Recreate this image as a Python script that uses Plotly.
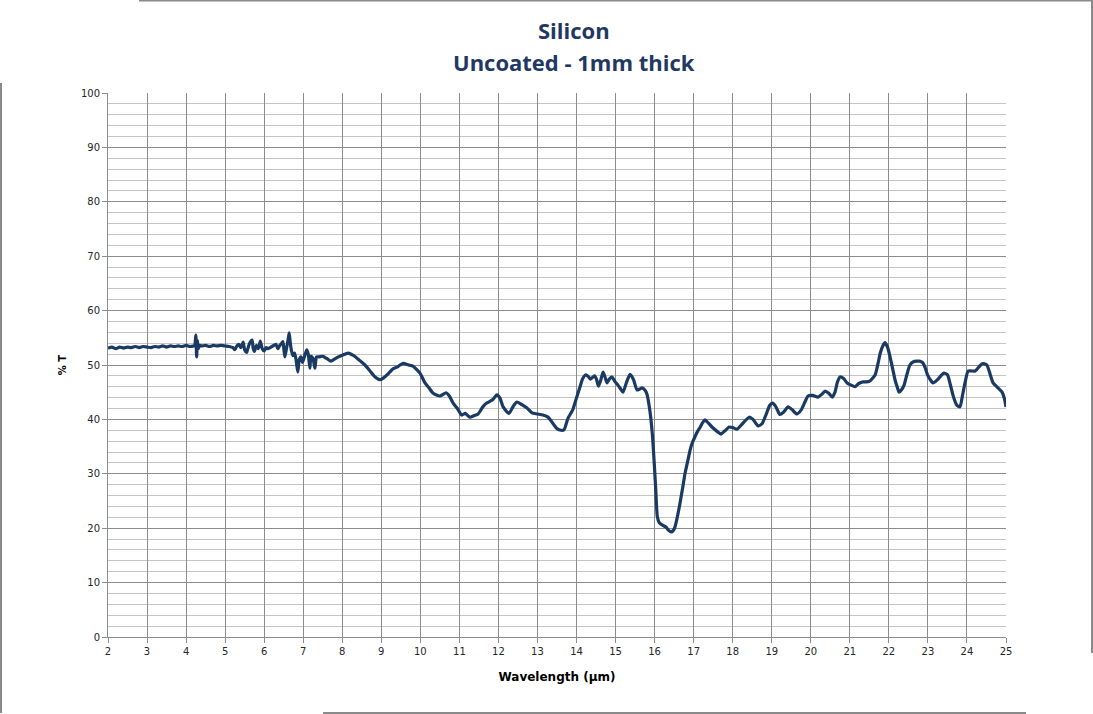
import plotly.graph_objects as go

# Wavelength (µm)
wl = [2.0, 2.1, 2.2, 2.3, 2.4, 2.5, 2.6, 2.7, 2.8, 2.9, 3.0, 3.1, 3.2, 3.3, 3.4, 3.5, 3.6, 3.7, 3.8, 3.9,
      4.0, 4.1, 4.2, 4.22, 4.25, 4.27, 4.29, 4.31, 4.35, 4.4, 4.5, 4.6, 4.7, 4.8, 4.9, 5.0, 5.1, 5.2, 5.25,
      5.3, 5.35, 5.4, 5.46, 5.5, 5.55, 5.6, 5.65, 5.69, 5.72, 5.75, 5.8, 5.85, 5.9, 5.95, 6.0, 6.05, 6.1,
      6.2, 6.3, 6.35, 6.4, 6.45, 6.48, 6.51, 6.53, 6.57, 6.61, 6.64, 6.67, 6.7, 6.74, 6.78, 6.82, 6.86,
      6.9, 6.94, 6.98, 7.03, 7.09, 7.13, 7.17, 7.2, 7.25, 7.3, 7.34, 7.4, 7.5, 7.6, 7.71, 7.8, 7.9, 8.0,
      8.15, 8.3, 8.45, 8.58, 8.7, 8.84, 8.97, 9.05, 9.15, 9.3, 9.4, 9.48, 9.56, 9.7, 9.81, 9.9, 9.99,
      10.12, 10.22, 10.33, 10.5, 10.66, 10.75, 10.84, 10.95, 11.06, 11.15, 11.27, 11.38, 11.48, 11.6,
      11.7, 11.85, 11.96, 12.04, 12.12, 12.27, 12.37, 12.47, 12.6, 12.73, 12.86, 13.0, 13.14, 13.25,
      13.32, 13.42, 13.5, 13.6, 13.68, 13.78, 13.9, 13.98, 14.09, 14.16, 14.24, 14.3, 14.36, 14.46,
      14.51, 14.56, 14.62, 14.68, 14.73, 14.78, 14.84, 14.91, 14.98, 15.06, 15.13, 15.19, 15.28, 15.37,
      15.46, 15.55, 15.62, 15.68, 15.76, 15.81, 15.86, 15.9, 15.95, 15.99, 16.03, 16.07, 16.12, 16.19,
      16.29, 16.36, 16.42, 16.48, 16.52, 16.58, 16.65, 16.72, 16.78, 16.85, 16.91, 16.97, 17.04, 17.1,
      17.17, 17.23, 17.29, 17.38, 17.47, 17.6, 17.7, 17.8, 17.91, 18.0, 18.11, 18.25, 18.42, 18.52,
      18.65, 18.75, 18.85, 18.95, 19.02, 19.1, 19.21, 19.3, 19.42, 19.52, 19.64, 19.75, 19.85, 19.93,
      20.05, 20.19, 20.28, 20.37, 20.46, 20.55, 20.62, 20.68, 20.75, 20.84, 20.93, 21.03, 21.13, 21.23,
      21.34, 21.43, 21.52, 21.6, 21.65, 21.72, 21.78, 21.85, 21.9, 21.97, 22.03, 22.1, 22.16, 22.22,
      22.26, 22.32, 22.39, 22.46, 22.54, 22.63, 22.72, 22.8, 22.87, 22.93, 22.99, 23.06, 23.13, 23.2,
      23.26, 23.34, 23.41, 23.5, 23.57, 23.64, 23.7, 23.74, 23.82, 23.88, 23.95, 24.03, 24.12, 24.21,
      24.3, 24.38, 24.45, 24.51, 24.59, 24.67, 24.78, 24.9, 24.96, 25.0]

# Transmission (%)
tr = [53.1, 53.3, 53.0, 53.3, 53.1, 53.3, 53.2, 53.4, 53.2, 53.4, 53.3, 53.2, 53.4, 53.3, 53.5, 53.3,
      53.5, 53.4, 53.5, 53.4, 53.6, 53.4, 53.5, 53.5, 55.5, 51.5, 54.5, 53.0, 53.6, 53.5, 53.6, 53.4,
      53.6, 53.5, 53.6, 53.5, 53.4, 53.2, 52.8, 53.5, 53.8, 53.2, 54.2, 52.8, 52.3, 53.5, 54.3, 54.6,
      53.0, 52.5, 53.6, 53.0, 54.4, 53.0, 52.6, 53.2, 53.0, 53.4, 53.8, 53.0, 53.6, 54.0, 54.3, 52.5,
      51.5, 53.0, 54.5, 55.9, 54.0, 52.6, 51.7, 52.2, 50.8, 48.7, 51.0, 51.5, 50.5, 51.5, 52.8, 52.0,
      49.4, 51.6, 51.2, 49.4, 51.5, 51.5, 51.6, 51.2, 50.7, 51.1, 51.5, 51.8, 52.2, 51.7, 50.8, 50.0,
      49.0, 47.8, 47.3, 47.6, 48.2, 49.3, 49.6, 50.0, 50.3, 50.0, 49.8, 49.2, 48.5, 46.7, 45.8, 44.8,
      44.3, 44.9, 44.2, 43.0, 42.0, 40.8, 41.1, 40.4, 40.7, 41.0, 42.3, 43.0, 43.6, 44.5, 43.9, 42.3,
      41.1, 42.3, 43.2, 42.7, 42.1, 41.2, 41.0, 40.8, 40.5, 40.0, 39.0, 38.3, 38.0, 38.1, 40.2, 41.7,
      43.5, 46.0, 47.5, 48.2, 47.9, 47.4, 48.0, 47.4, 46.1, 47.2, 48.7, 47.8, 46.7, 47.4, 47.8, 47.0,
      46.3, 45.6, 45.0, 46.8, 48.3, 47.3, 45.4, 45.6, 45.8, 45.3, 44.5, 42.5, 40.4, 36.5, 32.0, 27.0,
      22.1, 21.0, 20.6, 20.2, 19.6, 19.3, 19.6, 20.2, 22.0, 24.6, 27.5, 30.1, 32.4, 34.4, 35.8, 36.9,
      37.8, 38.6, 39.4, 39.9, 39.3, 38.6, 37.8, 37.3, 37.9, 38.6, 38.5, 38.2, 39.2, 40.4, 40.0, 38.8,
      39.2, 40.8, 42.6, 43.0, 42.4, 40.9, 41.3, 42.3, 41.8, 41.0, 41.7, 43.2, 44.3, 44.4, 44.1, 44.6,
      45.2, 44.8, 44.1, 45.0, 46.8, 47.8, 47.5, 46.7, 46.3, 46.0, 46.6, 46.9, 46.9, 47.1, 47.7, 48.2,
      50.2, 52.2, 53.6, 54.1, 53.2, 51.5, 49.2, 47.2, 45.8, 45.0, 45.4, 46.3, 48.2, 50.0, 50.6, 50.7,
      50.7, 50.4, 49.5, 48.2, 47.3, 46.7, 47.0, 47.4, 48.1, 48.5, 48.2, 46.5, 44.5, 43.2, 42.6, 42.3,
      44.2, 46.7, 48.9, 48.9, 48.9, 49.6, 50.2, 50.2, 50.0, 48.4, 46.7, 45.9, 45.0, 43.8, 42.3]

title_lines = ["Silicon", "Uncoated - 1mm thick"]
x_title = "Wavelength (µm)"
y_title = "% T"

W, H = 1093, 714
L, R, T, B = 108, 1006, 93, 637


def px(x):
    return (x - L) / (R - L)


def py(y):
    return (B - y) / (B - T)


fig = go.Figure()
fig.add_trace(go.Scatter(
    x=wl, y=tr, mode="lines",
    line=dict(color="#1b3a63", width=3.2, shape="spline", smoothing=0.6),
    showlegend=False, hoverinfo="x+y"))

grid_major = "#8c8c8c"
grid_minor = "#c4c4c4"

fig.update_layout(
    width=W, height=H,
    margin=dict(l=L, r=W - R, t=T, b=H - B),
    paper_bgcolor="white", plot_bgcolor="white",
    xaxis=dict(range=[2, 25], dtick=1, tick0=2, showgrid=True, gridcolor=grid_major, gridwidth=1,
               zeroline=False, showline=True, linecolor=grid_major, linewidth=1,
               ticks="outside", ticklen=5, tickcolor=grid_major,
               tickfont=dict(family="DejaVu Sans", size=10, color="#262626"),
               title=dict(text="<b>" + x_title + "</b>", standoff=16,
                          font=dict(family="DejaVu Sans", size=12, color="#000000"))),
    yaxis=dict(range=[0, 100], dtick=10, tick0=0, showgrid=True, gridcolor=grid_major, gridwidth=1,
               zeroline=False, showline=True, linecolor=grid_major, linewidth=1,
               ticks="outside", ticklen=5, tickcolor=grid_major,
               tickfont=dict(family="DejaVu Sans", size=10, color="#262626"),
               minor=dict(dtick=2, showgrid=True, gridcolor=grid_minor, gridwidth=1, ticks=""),
               title=dict(text="<b>" + y_title + "</b>", standoff=12,
                          font=dict(family="DejaVu Sans", size=10, color="#000000"))),
)

# title, two lines
for text, ypix in zip(title_lines, [30, 62]):
    fig.add_annotation(text="<b>" + text + "</b>", xref="paper", yref="paper",
                       x=px(574), y=py(ypix), xanchor="center", yanchor="middle",
                       showarrow=False,
                       font=dict(family="Open Sans", size=22, color="#1f3864"))

# fragments of the chart frame borders
border = dict(color="#8a8a8a", width=2)
for x0, y0, x1, y1 in [(139, 0.5, 1093, 0.5), (1092, 0, 1092, 653),
                       (1, 83, 1, 713), (323, 713, 1026, 713)]:
    fig.add_shape(type="line", xref="paper", yref="paper",
                  x0=px(x0), y0=py(y0), x1=px(x1), y1=py(y1), line=border)

fig.write_html("out.html", config={"displayModeBar": False},
               post_script="document.body.style.margin='0px';document.body.style.overflow='hidden';")
